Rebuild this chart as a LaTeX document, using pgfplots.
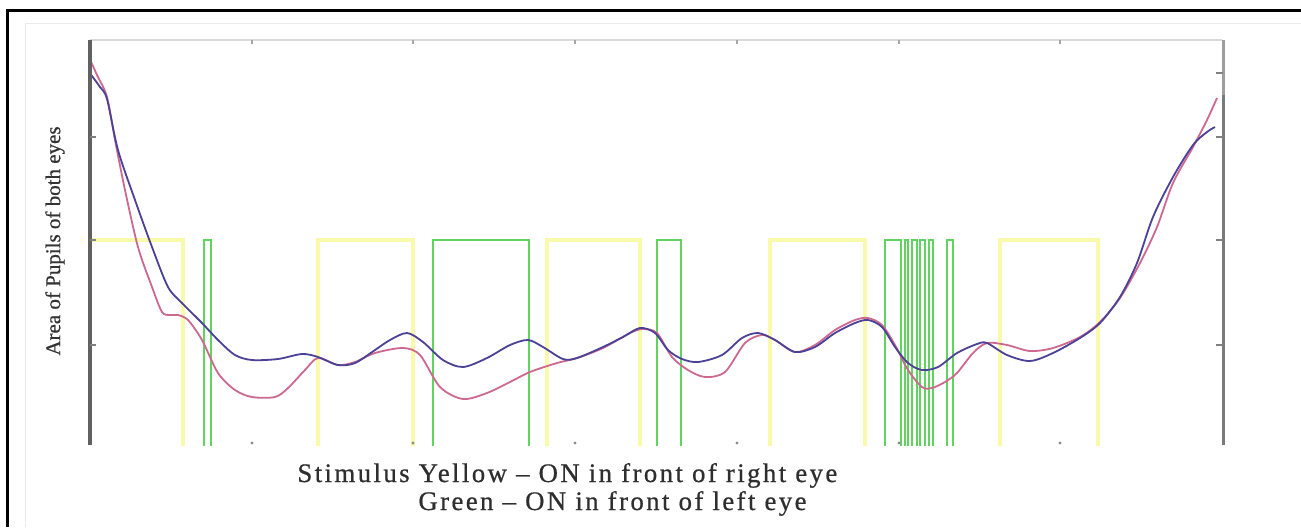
\documentclass[border=0pt]{standalone}
\usepackage{pgfplots}
\pgfplotsset{compat=1.18}
\usepackage{fontspec}
\setmainfont{Liberation Serif}
\definecolor{stimY}{RGB}{250,250,172}
\definecolor{stimG}{RGB}{95,212,95}
\definecolor{pupR}{RGB}{205,105,145}
\definecolor{pupB}{RGB}{75,65,150}
\begin{document}
\begin{tikzpicture}
\begin{scope}[x=0.5pt,y=-0.5pt]
\useasboundingbox (0,0) rectangle (1301,527);
\fill[white] (0,0) rectangle (1301,527);
\draw[black!8, line width=0.5pt] (25,527) -- (25,23) -- (1301,23);
\draw[black, line width=1.5pt] (7,527) -- (7,10) -- (1301,10);
\node[rotate=90, inner sep=0, font=\fontsize{10.5}{12}\selectfont\addfontfeature{FakeBold=0.6}, text=black!80] at (55,241) {Area of Pupils of both eyes};
\node[anchor=base west, inner sep=0, font=\fontsize{13.4}{15}\selectfont\addfontfeature{LetterSpace=9,FakeBold=0.6}, text=black!82] at (297,482) {Stimulus Yellow -- ON in front of right eye};
\node[anchor=base west, inner sep=0, font=\fontsize{13.4}{15}\selectfont\addfontfeature{LetterSpace=9,FakeBold=0.6}, text=black!82] at (418,510) {Green -- ON in front of left eye};
\end{scope}
\begin{axis}[at={(45pt,-222.5pt)}, anchor=south west, scale only axis,
  width=566pt, height=202.5pt, xmin=90, xmax=1222, ymin=0, ymax=405,
  hide axis, clip mode=individual]
% stimulus: yellow = ON in front of right eye
\addplot[stimY, line width=1.6pt] coordinates {
(90,205) (183,205) (183,-3) (318,-3) (318,205) (413,205) (413,-3) (547,-3) (547,205) (640,205) (640,-3) (770,-3) (770,205) (865,205) (865,-3) (1000,-3) (1000,205) (1098,205) (1098,-3) (1222,-3)};
% stimulus: green = ON in front of left eye
\addplot[stimG, line width=1pt] coordinates {
(90,-3) (204,-3) (204,205) (211,205) (211,-3) (433,-3) (433,205) (529,205) (529,-3) (657,-3) (657,205) (681,205) (681,-3) (885,-3) (885,205) (901,205) (901,-3) (905,-3) (905,205) (908,205) (908,-3) (912,-3) (912,205) (917,205) (917,-3) (920,-3) (920,205) (925,205) (925,-3) (929,-3) (929,205) (933,205) (933,-3) (947,-3) (947,205) (953,205) (953,-3) (1222,-3)};
% pupil area (red)
\addplot[pupR, line width=0.9pt, smooth] coordinates {
(88,390) (97,370) (107,348) (115,305) (125,255) (138,198) (152,158) (162,133) (170,130) (178,130) (188,125) (202,105) (218,72) (235,55) (252,48) (275,48) (288,57) (305,75) (318,87) (338,80) (355,83) (375,92) (403,97) (420,90) (440,58) (463,46) (487,52) (510,63) (530,73) (557,82) (577,87) (603,97) (630,112) (643,116) (657,112) (672,88) (688,75) (705,68) (725,73) (745,102) (762,110) (775,105) (795,93) (815,100) (835,115) (855,125) (868,127) (882,120) (895,100) (908,75) (922,58) (932,57) (945,63) (957,72) (973,92) (987,102) (1007,100) (1030,94) (1053,97) (1080,108) (1100,123) (1120,147) (1140,182) (1157,218) (1173,262) (1193,298) (1207,325) (1217,347)};
% pupil area (blue)
\addplot[pupB, line width=0.9pt, smooth] coordinates {
(89,373) (100,358) (107,346) (118,295) (135,245) (152,198) (168,158) (182,142) (202,122) (218,105) (235,90) (252,85) (278,86) (302,91) (318,88) (338,80) (355,82) (375,95) (390,105) (407,112) (423,103) (443,85) (463,78) (487,87) (510,100) (528,105) (543,98) (563,86) (577,87) (603,98) (623,108) (640,117) (655,112) (668,95) (682,86) (698,83) (722,90) (742,107) (758,112) (775,105) (795,93) (815,98) (835,112) (855,122) (868,125) (882,118) (895,98) (908,82) (922,75) (938,78) (957,92) (977,101) (987,102) (1007,90) (1030,84) (1053,92) (1080,107) (1100,122) (1120,148) (1137,182) (1153,228) (1173,268) (1193,300) (1207,313) (1215,318)};
% axes
\draw[black!15, line width=0.6pt] (90,405) -- (1222,405);
\pgfplotsinvokeforeach{252,413,575,737,899,1060}{
  \draw[black!35, line width=0.6pt] (#1,405) -- (#1,401);
  \fill[black!45] (#1,2) circle[radius=0.8pt];
}
\draw[black!62, line width=2pt] (90,0) -- (90,405);
\pgfplotsinvokeforeach{100,205,308}{
  \draw[black!50, line width=0.6pt] (90,#1) -- (96,#1);
}
\draw[black!38, line width=1.5pt] (1223,0) -- (1223,405);
\draw[black!52, line width=1.5pt] (1223,0) -- (1223,350);
\pgfplotsinvokeforeach{100,205,308,372}{
  \draw[black!50, line width=0.6pt] (1216,#1) -- (1223,#1);
}
\end{axis}
\end{tikzpicture}
\end{document}
